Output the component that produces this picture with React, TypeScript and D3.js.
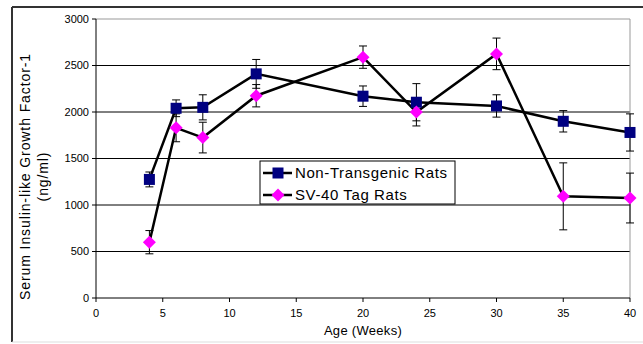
import React from "react";
import * as d3 from "d3";

const weeks = [4, 6, 8, 12, 20, 24, 30, 35, 40];
const nonTransgenic = [1275, 2040, 2050, 2410, 2170, 2105, 2065, 1900, 1780];
const nonTransgenicErr = [80, 90, 135, 155, 110, 200, 120, 115, 200];
const sv40 = [600, 1830, 1725, 2175, 2590, 2000, 2625, 1093, 1075];
const sv40Err = [125, 150, 165, 120, 120, 150, 170, 360, 268];
const xTicks = [0, 5, 10, 15, 20, 25, 30, 35, 40];
const yTicks = [0, 500, 1000, 1500, 2000, 2500, 3000];
const seriesNames = ["Non-Transgenic Rats", "SV-40 Tag Rats"];

const W = 643;
const H = 344;
const left = 96;
const right = 630;
const top = 19;
const bottom = 298;
const font = "'Liberation Sans', Arial, sans-serif";

export default function App() {
  const x = d3.scaleLinear().domain([0, 40]).range([left, right]);
  const y = d3.scaleLinear().domain([0, 3000]).range([bottom, top]);
  const line = d3
    .line<[number, number]>()
    .x((d) => x(d[0]))
    .y((d) => y(d[1]));

  const ntPts: [number, number][] = weeks.map((w, i) => [w, nonTransgenic[i]]);
  const svPts: [number, number][] = weeks.map((w, i) => [w, sv40[i]]);

  const errBars = (vals: number[], errs: number[], key: string) =>
    weeks.map((w, i) => {
      const cx = x(w);
      const y1 = y(vals[i] + errs[i]);
      const y2 = y(vals[i] - errs[i]);
      return (
        <g key={key + i} stroke="#000" strokeWidth={1}>
          <line x1={cx} x2={cx} y1={y1} y2={y2} />
          <line x1={cx - 4} x2={cx + 4} y1={y1} y2={y1} />
          <line x1={cx - 4} x2={cx + 4} y1={y2} y2={y2} />
        </g>
      );
    });

  const square = (cx: number, cy: number, key: string) => (
    <rect key={key} x={cx - 5.5} y={cy - 5.5} width={11} height={11} fill="#000080" />
  );
  const diamond = (cx: number, cy: number, key: string) => (
    <path
      key={key}
      d={`M${cx},${cy - 6.5}L${cx + 6.5},${cy}L${cx},${cy + 6.5}L${cx - 6.5},${cy}Z`}
      fill="#ff00ff"
    />
  );

  const legX = 260;
  const legY = 161;

  return (
    <svg
      width={W}
      height={H}
      style={{ position: "absolute", left: 0, top: 0, background: "#fff" }}
      fontFamily={font}
    >
      {/* outer frame */}
      <line x1={12} x2={W} y1={7} y2={7} stroke="#333" strokeWidth={2} />
      <line x1={12} x2={12} y1={7} y2={342} stroke="#333" strokeWidth={2} />
      <line x1={12} x2={W} y1={342} y2={342} stroke="#ddd" strokeWidth={1} />

      {/* gridlines */}
      {yTicks
        .filter((t) => t > 0)
        .map((t) => (
          <line
            key={"g" + t}
            x1={left}
            x2={right}
            y1={y(t)}
            y2={y(t)}
            stroke={t === 3000 ? "#999" : "#000"}
            strokeWidth={1}
          />
        ))}
      <line x1={right} x2={right} y1={top} y2={bottom} stroke="#999" strokeWidth={1} />

      {/* axes */}
      <line x1={left} x2={left} y1={top} y2={bottom} stroke="#000" strokeWidth={1} />
      <line x1={left} x2={right} y1={bottom} y2={bottom} stroke="#000" strokeWidth={1} />
      {yTicks.map((t) => (
        <g key={"yt" + t}>
          <line x1={left - 4} x2={left} y1={y(t)} y2={y(t)} stroke="#000" />
          <text x={left - 7} y={y(t)} dy="0.35em" textAnchor="end" fontSize={11} fill="#000">
            {t}
          </text>
        </g>
      ))}
      {xTicks.map((t) => (
        <g key={"xt" + t}>
          <line x1={x(t)} x2={x(t)} y1={bottom} y2={bottom + 4} stroke="#000" />
          <text x={x(t)} y={bottom + 15} dy="0.35em" textAnchor="middle" fontSize={11} fill="#000">
            {t}
          </text>
        </g>
      ))}

      {/* axis titles */}
      <text
        transform={`translate(25,${(top + bottom) / 2 + 18}) rotate(-90)`}
        textAnchor="middle"
        fontSize={14}
        letterSpacing={0.9}
        fill="#000"
        dy="0.35em"
      >
        Serum Insulin-like Growth Factor-1
      </text>
      <text
        transform={`translate(43,${(top + bottom) / 2 + 18}) rotate(-90)`}
        textAnchor="middle"
        fontSize={14}
        letterSpacing={0.9}
        fill="#000"
        dy="0.35em"
      >
        (ng/ml)
      </text>
      <text x={(left + right) / 2} y={330} textAnchor="middle" fontSize={13} letterSpacing={0.3} fill="#000" dy="0.35em">
        Age (Weeks)
      </text>

      {/* error bars */}
      {errBars(nonTransgenic, nonTransgenicErr, "ne")}
      {errBars(sv40, sv40Err, "se")}

      {/* lines */}
      <path d={line(ntPts) || ""} fill="none" stroke="#000" strokeWidth={2.5} />
      <path d={line(svPts) || ""} fill="none" stroke="#000" strokeWidth={2.5} />

      {/* markers */}
      {ntPts.map((p, i) => square(x(p[0]), y(p[1]), "s" + i))}
      {svPts.map((p, i) => diamond(x(p[0]), y(p[1]), "d" + i))}

      {/* legend */}
      <rect x={legX} y={legY} width={195} height={43} fill="#fff" stroke="#000" strokeWidth={1} />
      <g>
        <line x1={legX + 3} x2={legX + 32} y1={legY + 12} y2={legY + 12} stroke="#000" strokeWidth={2.5} />
        {square(legX + 18, legY + 12, "ls")}
        <text x={legX + 35} y={legY + 12} dy="0.35em" fontSize={15} fill="#000" letterSpacing={0.6}>
          {seriesNames[0]}
        </text>
        <line x1={legX + 3} x2={legX + 32} y1={legY + 34} y2={legY + 34} stroke="#000" strokeWidth={2.5} />
        {diamond(legX + 18, legY + 34, "ld")}
        <text x={legX + 35} y={legY + 34} dy="0.35em" fontSize={15} fill="#000" letterSpacing={0.6}>
          {seriesNames[1]}
        </text>
      </g>
    </svg>
  );
}
